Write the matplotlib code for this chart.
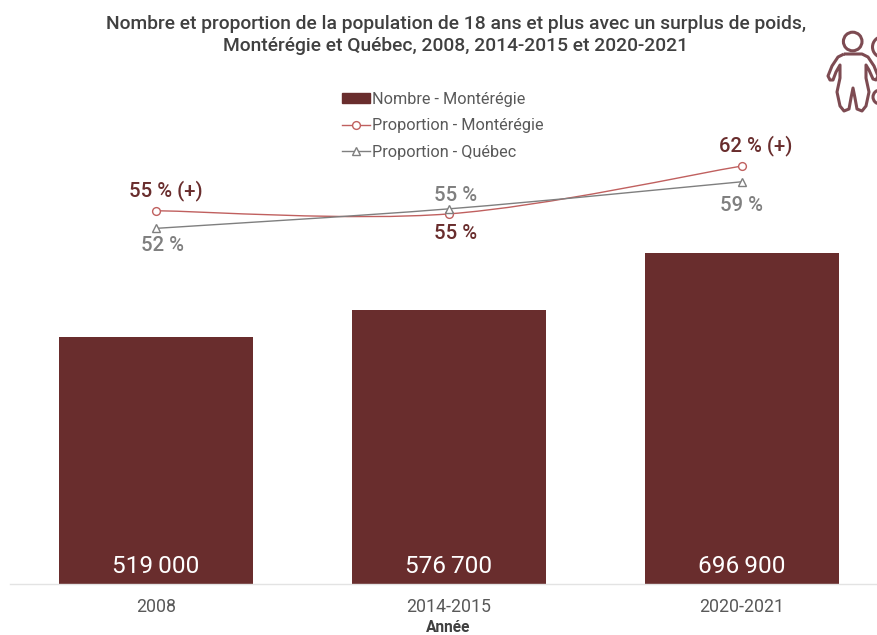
import matplotlib
matplotlib.use("Agg")
import matplotlib.pyplot as plt
from matplotlib.lines import Line2D
from matplotlib.path import Path
from matplotlib.patches import PathPatch, Circle

plt.rcParams['font.family'] = ['Roboto', 'DejaVu Sans']

categories = ['2008', '2014-2015', '2020-2021']
nombre = [519000, 576700, 696900]
nombre_labels = ['519\u2009000', '576\u2009700', '696\u2009900']
prop_monteregie = [54.9, 54.4, 62.0]
prop_quebec = [52.1, 55.2, 59.5]
lab_monteregie = ['55 % (+)', '55 %', '62 % (+)']
lab_quebec = ['52 %', '55 %', '59 %']
title = ("Nombre et proportion de la population de 18 ans et plus avec un surplus de poids,\n"
         "Montérégie et Québec, 2008, 2014-2015 et 2020-2021")

W, H = 878, 635
BAR = '#692D2D'
RED = '#C0605F'
GREY = '#7F7F7F'
TXT = '#595959'


def smooth_path(xs, ys):
    """Spline through the data points, as a spreadsheet's smoothed line."""
    verts = [(xs[0], ys[0])]
    codes = [Path.MOVETO]
    n = len(xs)
    for i in range(n - 1):
        a, b = max(i - 1, 0), min(i + 2, n - 1)
        c1 = (xs[i] + (xs[i + 1] - xs[a]) / 6, ys[i] + (ys[i + 1] - ys[a]) / 6)
        c2 = (xs[i + 1] - (xs[b] - xs[i]) / 6, ys[i + 1] - (ys[b] - ys[i]) / 6)
        verts += [c1, c2, (xs[i + 1], ys[i + 1])]
        codes += [Path.CURVE4] * 3
    return Path(verts, codes)


fig = plt.figure(figsize=(W / 100, H / 100), dpi=100, facecolor='white')
left, right = 9.5, 888.5
top, base = 80, 584
ax = fig.add_axes([left / W, 1 - base / H, (right - left) / W, (base - top) / H], clip_on=False)
x = list(range(3))
ax.bar(x, nombre, width=0.665, color=BAR, zorder=2)
ax.set_xlim(-0.5, 2.5)
ax.set_ylim(0, (base - top) / 475 * 1e6)
ax.set_yticks([])
ax.set_xticks(x, categories)
ax.tick_params(axis='x', length=0, labelsize=12.8, labelcolor=TXT, pad=10)
for s in ['top', 'left', 'right']:
    ax.spines[s].set_visible(False)
ax.spines['bottom'].set_color('#E3E3E3')
ax.spines['bottom'].set_linewidth(1.0)
ax.patch.set_alpha(0)

for xi, lab in zip(x, nombre_labels):
    ax.annotate(lab, (xi, 0), xytext=(0, 4), textcoords='offset points',
                ha='center', va='bottom', color='white', fontsize=17.6)

ax2 = ax.twinx()
ax2.set_ylim(62 - (base - 166) / 6.3, 62 + (166 - top) / 6.3)
ax2.set_yticks([])
for s in ax2.spines.values():
    s.set_visible(False)
ax2.patch.set_alpha(0)
ax2.add_patch(PathPatch(smooth_path(x, prop_monteregie), fill=False, ec=RED, lw=1.0, zorder=3))
ax2.add_patch(PathPatch(smooth_path(x, prop_quebec), fill=False, ec=GREY, lw=1.0, zorder=4))
ax2.plot(x, prop_monteregie, ls='none', color=RED, marker='o', ms=5.6, mfc='white', mew=1.0, zorder=3)
ax2.plot(x, prop_quebec, ls='none', color=GREY, marker='^', ms=5.2, mfc='white', mew=1.0, zorder=4)

off_m = [(10, 10), (7, -29), (14, 10)]
off_q = [(7, -27), (7, 4), (0, -33)]
for i in x:
    ax2.annotate(lab_monteregie[i], (i, prop_monteregie[i]),
                 xytext=off_m[i], textcoords='offset pixels',
                 ha='center', va='bottom', color=BAR, fontsize=14.6, fontweight='medium')
    ax2.annotate(lab_quebec[i], (i, prop_quebec[i]),
                 xytext=off_q[i], textcoords='offset pixels',
                 ha='center', va='bottom', color=GREY, fontsize=14.6, fontweight='medium')

handles = [
    plt.Rectangle((0, 0), 1, 1, color=BAR),
    Line2D([], [], color=RED, lw=1.0, marker='o', ms=5.6, mfc='white', mew=1.0),
    Line2D([], [], color=GREY, lw=1.0, marker='^', ms=5.2, mfc='white', mew=1.0),
]
labels = ['Nombre - Montérégie', 'Proportion - Montérégie', 'Proportion - Québec']
fig.legend(handles, labels, loc='upper left', bbox_to_anchor=(342 / W, 1 - 92 / H),
           frameon=False, fontsize=11.7, labelcolor=TXT, handlelength=1.72, handleheight=0.55,
           handletextpad=0.13, labelspacing=0.70, borderaxespad=0, borderpad=0)

fig.text(456 / W, 1 - 35 / H, title, ha='center', va='center', fontsize=13.85,
         fontweight='medium', color='#404040', linespacing=1.25)
fig.text(448 / W, 1 - 628 / H, 'Année', ha='center', va='center', fontsize=11.2,
         fontweight='bold', color='#404040')

# Decorative icon, in pixel coordinates of the figure
ic = fig.add_axes([0, 0, 1, 1], facecolor='none')
ic.set_xlim(0, W)
ic.set_ylim(H, 0)
ic.axis('off')
ICON = '#7D4B52'
ic.add_patch(Circle((852.7, 41.5), 9.3, fill=False, ec=ICON, lw=2.2))
body = [(844, 54), (862, 54), (868, 57), (874, 66), (878, 76), (876, 80), (873, 79), (869, 70),
        (866, 65), (866, 78), (869, 92), (866, 106), (862, 111), (857, 109), (855, 98), (853, 88),
        (851, 98), (849, 109), (844, 111), (840, 106), (837, 92), (840, 78), (840, 65),
        (836, 72), (833, 80), (830, 80), (828, 76), (832, 66), (838, 57), (844, 54)]
ic.add_patch(PathPatch(Path(body), fill=False, ec=ICON, lw=2.2, joinstyle='round'))
ic.add_patch(Circle((883, 47), 10.5, fill=False, ec=ICON, lw=2.2))
ic.add_patch(Circle((880, 97), 7, fill=False, ec=ICON, lw=2.2))

fig.savefig('out.png', dpi=100)
